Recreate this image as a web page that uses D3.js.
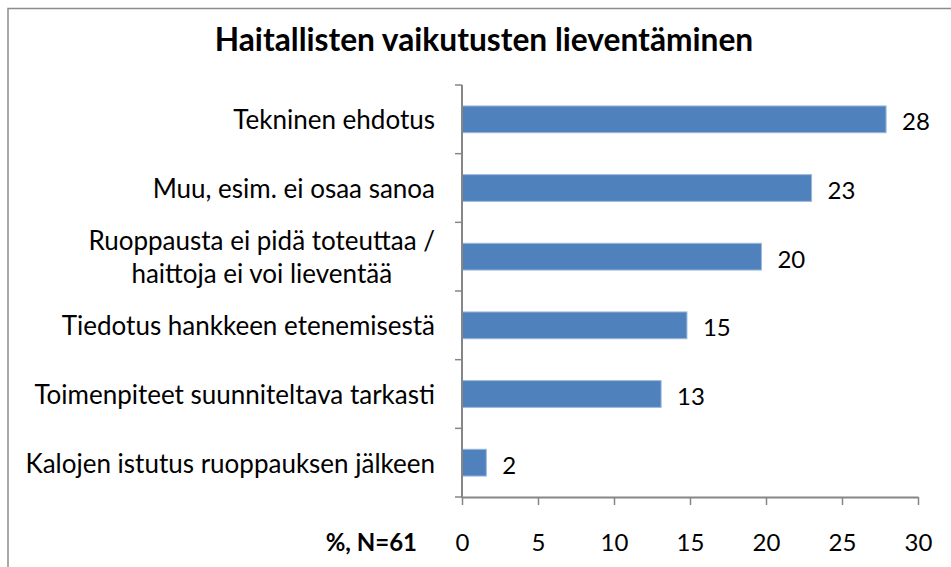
<!DOCTYPE html>
<html>
<head>
<meta charset="utf-8">
<script src="https://cdn.jsdelivr.net/npm/d3@7"></script>
<style>
  body { margin: 0; background: #fff; }
  text { font-family: Lato, "Open Sans", sans-serif; fill: #000; }
</style>
</head>
<body>
<div id="chart"></div>
<script>
const categories = [
  "Tekninen ehdotus",
  "Muu, esim. ei osaa sanoa",
  "Ruoppausta ei pidä toteuttaa /\nhaittoja ei voi lieventää",
  "Tiedotus hankkeen etenemisestä",
  "Toimenpiteet suunniteltava tarkasti",
  "Kalojen istutus ruoppauksen jälkeen"
];
const values = [27.9, 23.0, 19.7, 14.8, 13.1, 1.6];
const xTicks = [0, 5, 10, 15, 20, 25, 30];
const title = "Haitallisten vaikutusten lieventäminen";
const unitLabel = "%, N=61";

let W = 951, H = 567;
let plotLeft = 462, plotRight = 918, plotTop = 85, plotBottom = 497;
let labelSize = 26, numSize = 24;
let axisColor = "#868686";

let svg = d3.select("#chart").append("svg")
  .attr("width", W)
  .attr("height", H);

svg.append("rect")
  .attr("width", W).attr("height", H)
  .attr("fill", "#fff");

// chart frame (right and bottom edges fall outside the picture)
svg.append("rect")
  .attr("x", 8).attr("y", 8.5)
  .attr("width", 1000).attr("height", 1000)
  .attr("fill", "none")
  .attr("stroke", "#8c8c8c")
  .attr("stroke-width", 1.5);

let x = d3.scaleLinear().domain([0, 30]).range([plotLeft, plotRight]);
let y = d3.scaleBand().domain(categories).range([plotTop, plotBottom])
  .paddingInner(0.61).paddingOuter(0.305);

svg.append("text")
  .attr("x", 484).attr("y", 51)
  .attr("text-anchor", "middle")
  .style("font-weight", "bold")
  .style("font-size", "31.7px")
  .text(title);

// bars
svg.selectAll(".bar")
  .data(values)
  .enter().append("rect")
  .attr("class", "bar")
  .attr("x", x(0))
  .attr("y", (d, i) => y(categories[i]))
  .attr("width", d => x(d) - x(0))
  .attr("height", y.bandwidth())
  .attr("fill", "#4f81bd")
  .attr("stroke", "#9cb9dc")
  .attr("stroke-width", 1);

// value labels
svg.selectAll(".val")
  .data(values)
  .enter().append("text")
  .attr("class", "val")
  .attr("x", d => x(d) + 16)
  .attr("y", (d, i) => y(categories[i]) + y.bandwidth() / 2 + 11)
  .style("font-size", numSize + "px")
  .text(d => d3.format(".0f")(d));

// x axis
let xAxis = d3.axisBottom(x).tickValues(xTicks).tickSize(8).tickSizeOuter(0);
let gx = svg.append("g")
  .attr("transform", "translate(0," + plotBottom + ")")
  .call(xAxis);
gx.select(".domain").attr("stroke", axisColor).attr("stroke-width", 2);
gx.selectAll(".tick line").attr("stroke", axisColor).attr("stroke-width", 1.5);
gx.selectAll(".tick text")
  .attr("y", 54).attr("dy", null)
  .style("font-size", numSize + "px")
  .style("font-family", "Lato, 'Open Sans', sans-serif")
  .attr("fill", "#000");

svg.append("text")
  .attr("x", 417).attr("y", plotBottom + 54)
  .attr("text-anchor", "end")
  .style("font-weight", "bold")
  .style("font-size", numSize + "px")
  .text(unitLabel);

// category axis: line plus ticks between the bands
svg.append("line")
  .attr("x1", plotLeft).attr("x2", plotLeft)
  .attr("y1", plotTop).attr("y2", plotBottom + 1)
  .attr("stroke", axisColor).attr("stroke-width", 2);

svg.selectAll(".ctick")
  .data(d3.range(categories.length + 1))
  .enter().append("line")
  .attr("class", "ctick")
  .attr("x1", plotLeft - 7).attr("x2", plotLeft)
  .attr("y1", i => plotTop + i * y.step())
  .attr("y2", i => plotTop + i * y.step())
  .attr("stroke", axisColor).attr("stroke-width", 1.5);

// category labels, wrapped lines centred inside a right-aligned block
let labelRight = plotLeft - 27;
let lineH = 33;
categories.forEach(c => {
  let lines = c.split("\n");
  let cy = y(c) + y.bandwidth() / 2;
  let t = svg.append("text")
    .attr("text-anchor", "middle")
    .style("font-size", labelSize + "px");
  lines.forEach((l, j) => {
    t.append("tspan")
      .attr("y", cy + 10 + (j - (lines.length - 1) / 2) * lineH)
      .text(l);
  });
  let maxW = d3.max(t.selectAll("tspan").nodes(), n => n.getComputedTextLength());
  t.selectAll("tspan").attr("x", labelRight - maxW / 2);
});
</script>
</body>
</html>
